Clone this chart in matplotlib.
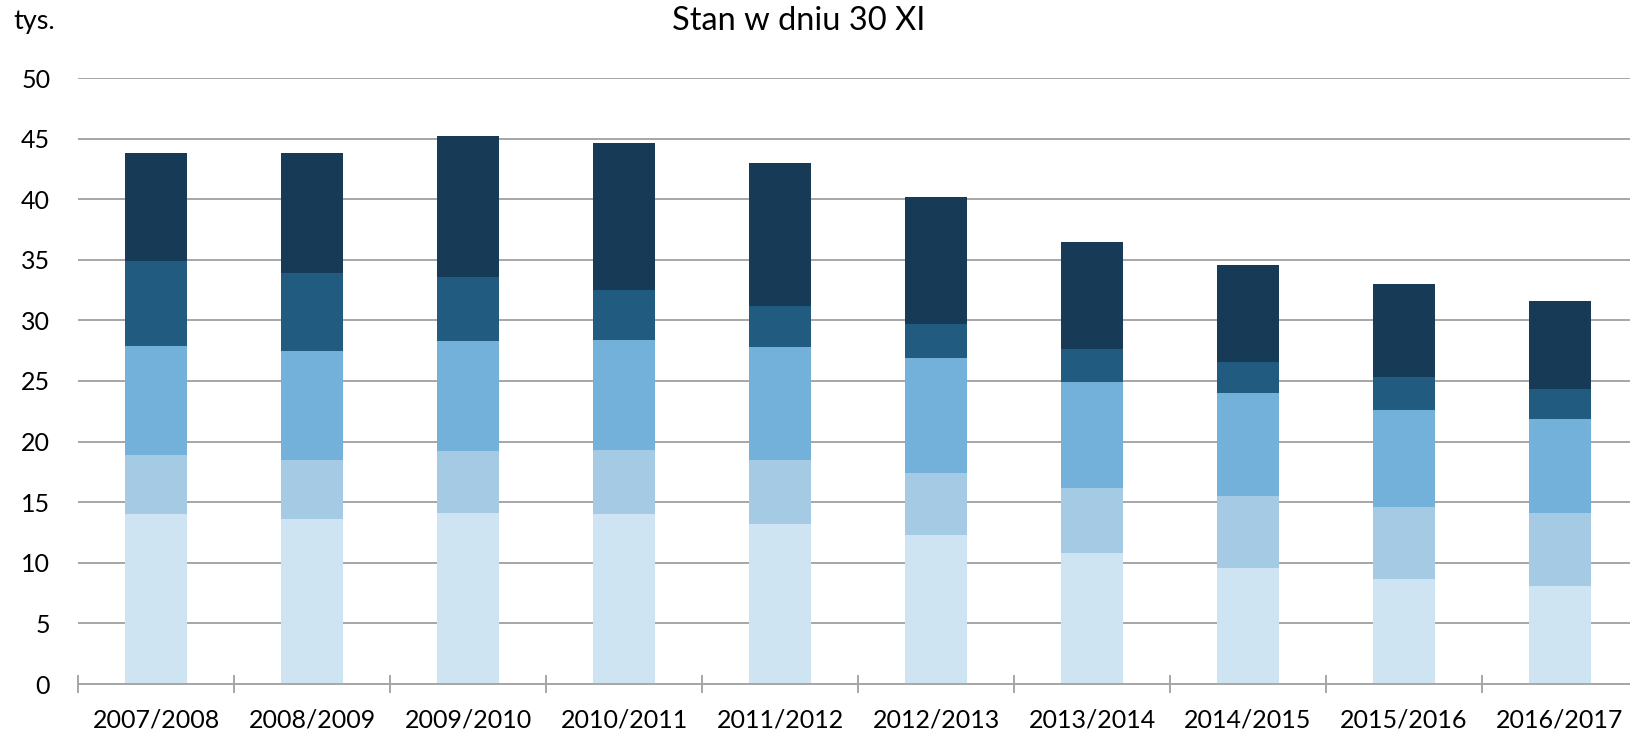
import numpy as np
import matplotlib
matplotlib.use("Agg")
import matplotlib.pyplot as plt

# school years on the x axis
years = ["2007/2008", "2008/2009", "2009/2010", "2010/2011", "2011/2012",
         "2012/2013", "2013/2014", "2014/2015", "2015/2016", "2016/2017"]

# stacked parts, bottom to top (thousands)
part1 = [14.0, 13.6, 14.1, 14.0, 13.2, 12.3, 10.8, 9.6, 8.7, 8.1]
part2 = [4.9, 4.9, 5.1, 5.3, 5.3, 5.1, 5.4, 5.9, 5.9, 6.0]
part3 = [9.0, 9.0, 9.1, 9.1, 9.3, 9.5, 8.7, 8.5, 8.0, 7.8]
part4 = [7.0, 6.4, 5.3, 4.1, 3.4, 2.8, 2.7, 2.6, 2.7, 2.4]
part5 = [8.9, 9.9, 11.6, 12.1, 11.8, 10.5, 8.9, 8.0, 7.7, 7.3]

colors = ["#cfe4f2", "#a4cae4", "#73b1db", "#225b80", "#173b56"]

plt.rcParams['font.family'] = ['Lato', 'DejaVu Sans']

fig = plt.figure(figsize=(16.31, 7.35), dpi=100)
# axes run slightly past the right edge of the figure
ax = fig.add_axes([78/1631, 51/735, 1560/1631, 606/735])

x = np.arange(len(years))
bottom = np.zeros(len(years))
for vals, c in zip([part1, part2, part3, part4, part5], colors):
    ax.bar(x, vals, width=0.4, bottom=bottom, color=c, zorder=3)
    bottom += np.array(vals)

ax.set_xlim(-0.5, len(years) - 0.5)
ax.set_ylim(0, 50)
ax.set_yticks(np.arange(0, 51, 5))
ax.yaxis.grid(True, color="#a6a6a6", linewidth=1.4, zorder=0)
ax.set_axisbelow(True)

for s in ["top", "right", "left"]:
    ax.spines[s].set_visible(False)
ax.spines["bottom"].set_color("#a6a6a6")
ax.spines["bottom"].set_linewidth(1.4)
ax.spines["bottom"].set_zorder(4)

# boundary ticks between categories, labels at the centres
ax.set_xticks(np.arange(-0.5, len(years), 1.0))
ax.set_xticklabels([])
ax.tick_params(axis="x", which="major", direction="inout", length=13,
               width=1.4, color="#a6a6a6")
ax.set_xticks(x, minor=True)
ax.set_xticklabels(years, minor=True, fontsize=18)
ax.tick_params(axis="x", which="minor", length=0, pad=18)

ax.tick_params(axis="y", length=0, pad=20, labelsize=18)

fig.text(799/1631, 1 - 21/735, "Stan w dniu 30 XI", ha="center", va="center",
         fontsize=23.5)
fig.text(13/1631, 1 - 22/735, "tys.", ha="left", va="center", fontsize=19.5)

fig.savefig("out.png", dpi=100)
